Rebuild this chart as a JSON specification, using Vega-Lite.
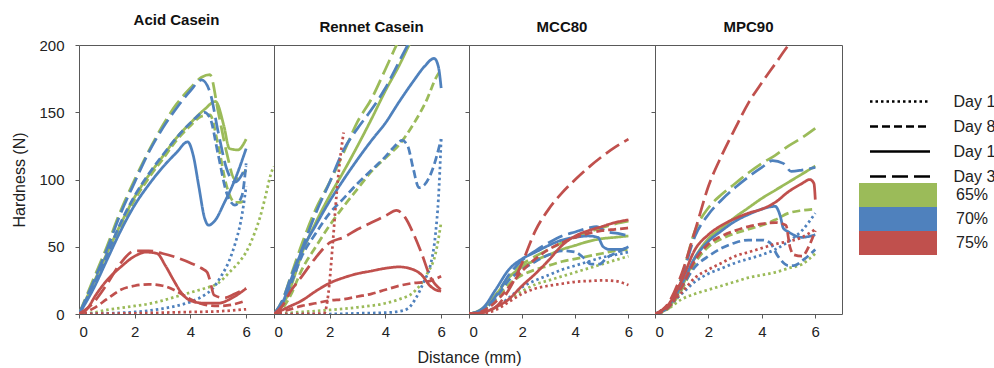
{
  "$schema": "https://vega.github.io/schema/vega-lite/v6.json",
  "background": "white",
  "padding": {"left": 11, "top": 12, "right": 0, "bottom": 0},
  "config": {
    "font": "Liberation Sans",
    "view": {"stroke": "#595959", "strokeWidth": 1},
    "axis": {"domain": false, "grid": false, "tickColor": "#595959", "tickSize": 4, "labelFont": "Liberation Sans", "labelFontSize": 15, "labelColor": "#222222", "titleFont": "Liberation Sans", "titleFontSize": 16, "titleFontWeight": "normal", "titleColor": "#222222"},
    "title": {"font": "Liberation Sans", "fontSize": 15, "fontWeight": "bold", "color": "#111111", "offset": 10, "anchor": "middle"},
    "legend": {"padding": 0, "titlePadding": 0, "labelFont": "Liberation Sans", "labelFontSize": 16, "labelColor": "#222222", "rowPadding": 0, "direction": "vertical"}
  },
  "datasets": {
    "acid": [
      {"c":"65%","d":"Day 1","x":0,"y":0},{"c":"65%","d":"Day 1","x":0.5,"y":1},{"c":"65%","d":"Day 1","x":1,"y":3},{"c":"65%","d":"Day 1","x":1.5,"y":4.5},{"c":"65%","d":"Day 1","x":2,"y":6},{"c":"65%","d":"Day 1","x":2.5,"y":7.5},{"c":"65%","d":"Day 1","x":3,"y":10},{"c":"65%","d":"Day 1","x":3.5,"y":13},{"c":"65%","d":"Day 1","x":4,"y":16},{"c":"65%","d":"Day 1","x":4.5,"y":19},{"c":"65%","d":"Day 1","x":5,"y":23},{"c":"65%","d":"Day 1","x":5.4,"y":31},{"c":"65%","d":"Day 1","x":5.8,"y":40},{"c":"65%","d":"Day 1","x":6,"y":46},{"c":"65%","d":"Day 1","x":6.3,"y":60},{"c":"65%","d":"Day 1","x":6.5,"y":72},{"c":"65%","d":"Day 1","x":6.7,"y":88},{"c":"65%","d":"Day 1","x":6.9,"y":105},{"c":"65%","d":"Day 1","x":7,"y":110},
      {"c":"65%","d":"Day 8","x":0,"y":0},{"c":"65%","d":"Day 8","x":0.5,"y":20},{"c":"65%","d":"Day 8","x":1,"y":42},{"c":"65%","d":"Day 8","x":1.5,"y":65},{"c":"65%","d":"Day 8","x":2,"y":85},{"c":"65%","d":"Day 8","x":2.5,"y":101},{"c":"65%","d":"Day 8","x":3,"y":115},{"c":"65%","d":"Day 8","x":3.5,"y":129},{"c":"65%","d":"Day 8","x":4,"y":140},{"c":"65%","d":"Day 8","x":4.4,"y":147},{"c":"65%","d":"Day 8","x":4.7,"y":148},{"c":"65%","d":"Day 8","x":5,"y":125},{"c":"65%","d":"Day 8","x":5.3,"y":95},{"c":"65%","d":"Day 8","x":5.6,"y":83},{"c":"65%","d":"Day 8","x":5.8,"y":83},{"c":"65%","d":"Day 8","x":6,"y":86},
      {"c":"65%","d":"Day 15","x":0,"y":0},{"c":"65%","d":"Day 15","x":0.5,"y":22},{"c":"65%","d":"Day 15","x":1,"y":45},{"c":"65%","d":"Day 15","x":1.5,"y":67},{"c":"65%","d":"Day 15","x":2,"y":87},{"c":"65%","d":"Day 15","x":2.5,"y":103},{"c":"65%","d":"Day 15","x":3,"y":117},{"c":"65%","d":"Day 15","x":3.5,"y":131},{"c":"65%","d":"Day 15","x":4,"y":142},{"c":"65%","d":"Day 15","x":4.5,"y":152},{"c":"65%","d":"Day 15","x":4.9,"y":158},{"c":"65%","d":"Day 15","x":5.2,"y":140},{"c":"65%","d":"Day 15","x":5.4,"y":123},{"c":"65%","d":"Day 15","x":5.7,"y":122},{"c":"65%","d":"Day 15","x":6,"y":130},
      {"c":"65%","d":"Day 36","x":0,"y":0},{"c":"65%","d":"Day 36","x":0.5,"y":25},{"c":"65%","d":"Day 36","x":1,"y":50},{"c":"65%","d":"Day 36","x":1.5,"y":77},{"c":"65%","d":"Day 36","x":2,"y":100},{"c":"65%","d":"Day 36","x":2.5,"y":121},{"c":"65%","d":"Day 36","x":3,"y":140},{"c":"65%","d":"Day 36","x":3.5,"y":156},{"c":"65%","d":"Day 36","x":4,"y":168},{"c":"65%","d":"Day 36","x":4.4,"y":176},{"c":"65%","d":"Day 36","x":4.7,"y":178},{"c":"65%","d":"Day 36","x":5,"y":150},{"c":"65%","d":"Day 36","x":5.3,"y":120},{"c":"65%","d":"Day 36","x":5.6,"y":100},{"c":"65%","d":"Day 36","x":6,"y":107},
      {"c":"70%","d":"Day 1","x":0,"y":0},{"c":"70%","d":"Day 1","x":1,"y":0.5},{"c":"70%","d":"Day 1","x":2,"y":1.5},{"c":"70%","d":"Day 1","x":2.5,"y":2.5},{"c":"70%","d":"Day 1","x":3,"y":4},{"c":"70%","d":"Day 1","x":3.5,"y":6},{"c":"70%","d":"Day 1","x":4,"y":9},{"c":"70%","d":"Day 1","x":4.5,"y":14},{"c":"70%","d":"Day 1","x":4.8,"y":19},{"c":"70%","d":"Day 1","x":5.1,"y":28},{"c":"70%","d":"Day 1","x":5.4,"y":40},{"c":"70%","d":"Day 1","x":5.6,"y":52},{"c":"70%","d":"Day 1","x":5.8,"y":68},{"c":"70%","d":"Day 1","x":5.9,"y":80},{"c":"70%","d":"Day 1","x":6,"y":95},
      {"c":"70%","d":"Day 8","x":0,"y":0},{"c":"70%","d":"Day 8","x":0.5,"y":21},{"c":"70%","d":"Day 8","x":1,"y":44},{"c":"70%","d":"Day 8","x":1.5,"y":68},{"c":"70%","d":"Day 8","x":2,"y":88},{"c":"70%","d":"Day 8","x":2.5,"y":104},{"c":"70%","d":"Day 8","x":3,"y":118},{"c":"70%","d":"Day 8","x":3.5,"y":131},{"c":"70%","d":"Day 8","x":4,"y":142},{"c":"70%","d":"Day 8","x":4.5,"y":150},{"c":"70%","d":"Day 8","x":4.7,"y":146},{"c":"70%","d":"Day 8","x":5,"y":118},{"c":"70%","d":"Day 8","x":5.3,"y":90},{"c":"70%","d":"Day 8","x":5.6,"y":81},{"c":"70%","d":"Day 8","x":5.85,"y":88},{"c":"70%","d":"Day 8","x":6,"y":112},
      {"c":"70%","d":"Day 15","x":0,"y":0},{"c":"70%","d":"Day 15","x":0.5,"y":18},{"c":"70%","d":"Day 15","x":1,"y":40},{"c":"70%","d":"Day 15","x":1.5,"y":62},{"c":"70%","d":"Day 15","x":2,"y":81},{"c":"70%","d":"Day 15","x":2.5,"y":96},{"c":"70%","d":"Day 15","x":3,"y":109},{"c":"70%","d":"Day 15","x":3.5,"y":120},{"c":"70%","d":"Day 15","x":3.9,"y":128},{"c":"70%","d":"Day 15","x":4.1,"y":118},{"c":"70%","d":"Day 15","x":4.3,"y":95},{"c":"70%","d":"Day 15","x":4.5,"y":72},{"c":"70%","d":"Day 15","x":4.65,"y":66},{"c":"70%","d":"Day 15","x":4.9,"y":70},{"c":"70%","d":"Day 15","x":5.2,"y":82},{"c":"70%","d":"Day 15","x":5.6,"y":100},{"c":"70%","d":"Day 15","x":6,"y":123},
      {"c":"70%","d":"Day 36","x":0,"y":0},{"c":"70%","d":"Day 36","x":0.5,"y":23},{"c":"70%","d":"Day 36","x":1,"y":48},{"c":"70%","d":"Day 36","x":1.5,"y":75},{"c":"70%","d":"Day 36","x":2,"y":98},{"c":"70%","d":"Day 36","x":2.5,"y":120},{"c":"70%","d":"Day 36","x":3,"y":138},{"c":"70%","d":"Day 36","x":3.5,"y":153},{"c":"70%","d":"Day 36","x":4,"y":166},{"c":"70%","d":"Day 36","x":4.4,"y":174},{"c":"70%","d":"Day 36","x":4.7,"y":165},{"c":"70%","d":"Day 36","x":5,"y":135},{"c":"70%","d":"Day 36","x":5.3,"y":108},{"c":"70%","d":"Day 36","x":5.6,"y":98},{"c":"70%","d":"Day 36","x":6,"y":110},
      {"c":"75%","d":"Day 1","x":0,"y":0},{"c":"75%","d":"Day 1","x":1,"y":0.3},{"c":"75%","d":"Day 1","x":2,"y":0.5},{"c":"75%","d":"Day 1","x":3,"y":1},{"c":"75%","d":"Day 1","x":4,"y":1.5},{"c":"75%","d":"Day 1","x":5,"y":2},{"c":"75%","d":"Day 1","x":6,"y":3.5},
      {"c":"75%","d":"Day 8","x":0,"y":0},{"c":"75%","d":"Day 8","x":0.5,"y":4},{"c":"75%","d":"Day 8","x":1,"y":11},{"c":"75%","d":"Day 8","x":1.5,"y":18},{"c":"75%","d":"Day 8","x":2,"y":21},{"c":"75%","d":"Day 8","x":2.5,"y":22},{"c":"75%","d":"Day 8","x":3,"y":21},{"c":"75%","d":"Day 8","x":3.5,"y":17},{"c":"75%","d":"Day 8","x":4,"y":11},{"c":"75%","d":"Day 8","x":4.5,"y":7},{"c":"75%","d":"Day 8","x":5,"y":6},{"c":"75%","d":"Day 8","x":5.5,"y":7},{"c":"75%","d":"Day 8","x":6,"y":10},
      {"c":"75%","d":"Day 15","x":0,"y":0},{"c":"75%","d":"Day 15","x":0.3,"y":4},{"c":"75%","d":"Day 15","x":0.6,"y":14},{"c":"75%","d":"Day 15","x":1,"y":25},{"c":"75%","d":"Day 15","x":1.5,"y":35},{"c":"75%","d":"Day 15","x":2,"y":43},{"c":"75%","d":"Day 15","x":2.4,"y":46},{"c":"75%","d":"Day 15","x":2.8,"y":45},{"c":"75%","d":"Day 15","x":3.1,"y":36},{"c":"75%","d":"Day 15","x":3.4,"y":25},{"c":"75%","d":"Day 15","x":3.7,"y":15},{"c":"75%","d":"Day 15","x":4,"y":10},{"c":"75%","d":"Day 15","x":4.5,"y":8},{"c":"75%","d":"Day 15","x":5,"y":8},{"c":"75%","d":"Day 15","x":5.5,"y":12},{"c":"75%","d":"Day 15","x":6,"y":19},
      {"c":"75%","d":"Day 36","x":0,"y":0},{"c":"75%","d":"Day 36","x":0.5,"y":8},{"c":"75%","d":"Day 36","x":1,"y":22},{"c":"75%","d":"Day 36","x":1.5,"y":38},{"c":"75%","d":"Day 36","x":2,"y":47},{"c":"75%","d":"Day 36","x":2.5,"y":47},{"c":"75%","d":"Day 36","x":3,"y":45},{"c":"75%","d":"Day 36","x":3.5,"y":42},{"c":"75%","d":"Day 36","x":4,"y":38},{"c":"75%","d":"Day 36","x":4.4,"y":34},{"c":"75%","d":"Day 36","x":4.6,"y":31},{"c":"75%","d":"Day 36","x":4.7,"y":25},{"c":"75%","d":"Day 36","x":4.85,"y":14},{"c":"75%","d":"Day 36","x":5.2,"y":12},{"c":"75%","d":"Day 36","x":5.6,"y":15},{"c":"75%","d":"Day 36","x":6,"y":19}
    ],
    "rennet": [
      {"c":"65%","d":"Day 1","x":0,"y":0},{"c":"65%","d":"Day 1","x":1,"y":1.5},{"c":"65%","d":"Day 1","x":2,"y":3},{"c":"65%","d":"Day 1","x":3,"y":5},{"c":"65%","d":"Day 1","x":4,"y":8},{"c":"65%","d":"Day 1","x":4.5,"y":11},{"c":"65%","d":"Day 1","x":5,"y":16},{"c":"65%","d":"Day 1","x":5.5,"y":30},{"c":"65%","d":"Day 1","x":5.8,"y":45},{"c":"65%","d":"Day 1","x":6,"y":68},
      {"c":"65%","d":"Day 8","x":0,"y":0},{"c":"65%","d":"Day 8","x":0.3,"y":4},{"c":"65%","d":"Day 8","x":0.6,"y":14},{"c":"65%","d":"Day 8","x":1,"y":33},{"c":"65%","d":"Day 8","x":1.5,"y":50},{"c":"65%","d":"Day 8","x":2,"y":66},{"c":"65%","d":"Day 8","x":2.5,"y":80},{"c":"65%","d":"Day 8","x":3,"y":93},{"c":"65%","d":"Day 8","x":3.5,"y":106},{"c":"65%","d":"Day 8","x":4,"y":116},{"c":"65%","d":"Day 8","x":4.5,"y":126},{"c":"65%","d":"Day 8","x":5,"y":141},{"c":"65%","d":"Day 8","x":5.5,"y":160},{"c":"65%","d":"Day 8","x":5.8,"y":175},{"c":"65%","d":"Day 8","x":6,"y":182},
      {"c":"65%","d":"Day 15","x":0,"y":0},{"c":"65%","d":"Day 15","x":0.3,"y":6},{"c":"65%","d":"Day 15","x":0.6,"y":20},{"c":"65%","d":"Day 15","x":1,"y":45},{"c":"65%","d":"Day 15","x":1.5,"y":68},{"c":"65%","d":"Day 15","x":2,"y":88},{"c":"65%","d":"Day 15","x":2.5,"y":106},{"c":"65%","d":"Day 15","x":3,"y":125},{"c":"65%","d":"Day 15","x":3.5,"y":145},{"c":"65%","d":"Day 15","x":4,"y":166},{"c":"65%","d":"Day 15","x":4.5,"y":185},{"c":"65%","d":"Day 15","x":4.85,"y":200},{"c":"65%","d":"Day 15","x":5,"y":206},
      {"c":"65%","d":"Day 36","x":0,"y":0},{"c":"65%","d":"Day 36","x":0.3,"y":10},{"c":"65%","d":"Day 36","x":0.6,"y":28},{"c":"65%","d":"Day 36","x":1,"y":52},{"c":"65%","d":"Day 36","x":1.5,"y":78},{"c":"65%","d":"Day 36","x":2,"y":98},{"c":"65%","d":"Day 36","x":2.5,"y":120},{"c":"65%","d":"Day 36","x":3,"y":143},{"c":"65%","d":"Day 36","x":3.5,"y":160},{"c":"65%","d":"Day 36","x":4,"y":182},{"c":"65%","d":"Day 36","x":4.4,"y":200},{"c":"65%","d":"Day 36","x":4.7,"y":212},
      {"c":"70%","d":"Day 1","x":0,"y":0},{"c":"70%","d":"Day 1","x":2,"y":0},{"c":"70%","d":"Day 1","x":3,"y":0.5},{"c":"70%","d":"Day 1","x":4,"y":1},{"c":"70%","d":"Day 1","x":4.5,"y":2},{"c":"70%","d":"Day 1","x":4.8,"y":4},{"c":"70%","d":"Day 1","x":5.1,"y":12},{"c":"70%","d":"Day 1","x":5.4,"y":25},{"c":"70%","d":"Day 1","x":5.6,"y":35},{"c":"70%","d":"Day 1","x":5.8,"y":60},{"c":"70%","d":"Day 1","x":5.9,"y":85},{"c":"70%","d":"Day 1","x":5.95,"y":105},{"c":"70%","d":"Day 1","x":6,"y":130},
      {"c":"70%","d":"Day 8","x":0,"y":0},{"c":"70%","d":"Day 8","x":0.3,"y":8},{"c":"70%","d":"Day 8","x":0.6,"y":22},{"c":"70%","d":"Day 8","x":1,"y":43},{"c":"70%","d":"Day 8","x":1.5,"y":60},{"c":"70%","d":"Day 8","x":2,"y":75},{"c":"70%","d":"Day 8","x":2.5,"y":86},{"c":"70%","d":"Day 8","x":3,"y":97},{"c":"70%","d":"Day 8","x":3.5,"y":107},{"c":"70%","d":"Day 8","x":4,"y":117},{"c":"70%","d":"Day 8","x":4.3,"y":124},{"c":"70%","d":"Day 8","x":4.6,"y":129},{"c":"70%","d":"Day 8","x":4.8,"y":125},{"c":"70%","d":"Day 8","x":5,"y":108},{"c":"70%","d":"Day 8","x":5.2,"y":94},{"c":"70%","d":"Day 8","x":5.4,"y":96},{"c":"70%","d":"Day 8","x":5.7,"y":108},{"c":"70%","d":"Day 8","x":6,"y":130},
      {"c":"70%","d":"Day 15","x":0,"y":0},{"c":"70%","d":"Day 15","x":0.3,"y":8},{"c":"70%","d":"Day 15","x":0.6,"y":25},{"c":"70%","d":"Day 15","x":1,"y":47},{"c":"70%","d":"Day 15","x":1.5,"y":66},{"c":"70%","d":"Day 15","x":2,"y":84},{"c":"70%","d":"Day 15","x":2.5,"y":100},{"c":"70%","d":"Day 15","x":3,"y":115},{"c":"70%","d":"Day 15","x":3.5,"y":129},{"c":"70%","d":"Day 15","x":4,"y":142},{"c":"70%","d":"Day 15","x":4.5,"y":158},{"c":"70%","d":"Day 15","x":5,"y":173},{"c":"70%","d":"Day 15","x":5.4,"y":184},{"c":"70%","d":"Day 15","x":5.75,"y":190},{"c":"70%","d":"Day 15","x":5.9,"y":184},{"c":"70%","d":"Day 15","x":6,"y":168},
      {"c":"70%","d":"Day 36","x":0,"y":0},{"c":"70%","d":"Day 36","x":0.3,"y":10},{"c":"70%","d":"Day 36","x":0.6,"y":27},{"c":"70%","d":"Day 36","x":1,"y":48},{"c":"70%","d":"Day 36","x":1.5,"y":75},{"c":"70%","d":"Day 36","x":2,"y":98},{"c":"70%","d":"Day 36","x":2.5,"y":122},{"c":"70%","d":"Day 36","x":3,"y":138},{"c":"70%","d":"Day 36","x":3.5,"y":152},{"c":"70%","d":"Day 36","x":4,"y":168},{"c":"70%","d":"Day 36","x":4.5,"y":188},{"c":"70%","d":"Day 36","x":4.8,"y":200},{"c":"70%","d":"Day 36","x":5,"y":208},
      {"c":"75%","d":"Day 1","x":0,"y":0},{"c":"75%","d":"Day 1","x":1,"y":0},{"c":"75%","d":"Day 1","x":1.8,"y":0.5},{"c":"75%","d":"Day 1","x":1.95,"y":15},{"c":"75%","d":"Day 1","x":2.1,"y":50},{"c":"75%","d":"Day 1","x":2.25,"y":90},{"c":"75%","d":"Day 1","x":2.4,"y":120},{"c":"75%","d":"Day 1","x":2.5,"y":135},
      {"c":"75%","d":"Day 8","x":0,"y":0},{"c":"75%","d":"Day 8","x":0.5,"y":3},{"c":"75%","d":"Day 8","x":1,"y":6},{"c":"75%","d":"Day 8","x":1.5,"y":8},{"c":"75%","d":"Day 8","x":2,"y":10},{"c":"75%","d":"Day 8","x":2.5,"y":11},{"c":"75%","d":"Day 8","x":3,"y":13},{"c":"75%","d":"Day 8","x":3.5,"y":15},{"c":"75%","d":"Day 8","x":4,"y":18},{"c":"75%","d":"Day 8","x":4.5,"y":21},{"c":"75%","d":"Day 8","x":5,"y":23},{"c":"75%","d":"Day 8","x":5.5,"y":24},{"c":"75%","d":"Day 8","x":6,"y":28},
      {"c":"75%","d":"Day 15","x":0,"y":0},{"c":"75%","d":"Day 15","x":0.3,"y":3},{"c":"75%","d":"Day 15","x":0.6,"y":6},{"c":"75%","d":"Day 15","x":1,"y":10},{"c":"75%","d":"Day 15","x":1.5,"y":17},{"c":"75%","d":"Day 15","x":2,"y":23},{"c":"75%","d":"Day 15","x":2.5,"y":27},{"c":"75%","d":"Day 15","x":3,"y":30},{"c":"75%","d":"Day 15","x":3.5,"y":32},{"c":"75%","d":"Day 15","x":4,"y":34},{"c":"75%","d":"Day 15","x":4.5,"y":35},{"c":"75%","d":"Day 15","x":5,"y":33},{"c":"75%","d":"Day 15","x":5.3,"y":29},{"c":"75%","d":"Day 15","x":5.6,"y":21},{"c":"75%","d":"Day 15","x":5.8,"y":18},{"c":"75%","d":"Day 15","x":6,"y":17},
      {"c":"75%","d":"Day 36","x":0,"y":0},{"c":"75%","d":"Day 36","x":0.3,"y":6},{"c":"75%","d":"Day 36","x":0.6,"y":17},{"c":"75%","d":"Day 36","x":1,"y":28},{"c":"75%","d":"Day 36","x":1.5,"y":42},{"c":"75%","d":"Day 36","x":2,"y":53},{"c":"75%","d":"Day 36","x":2.5,"y":57},{"c":"75%","d":"Day 36","x":3,"y":63},{"c":"75%","d":"Day 36","x":3.5,"y":68},{"c":"75%","d":"Day 36","x":4,"y":73},{"c":"75%","d":"Day 36","x":4.4,"y":77},{"c":"75%","d":"Day 36","x":4.7,"y":72},{"c":"75%","d":"Day 36","x":5,"y":60},{"c":"75%","d":"Day 36","x":5.3,"y":45},{"c":"75%","d":"Day 36","x":5.6,"y":28},{"c":"75%","d":"Day 36","x":6,"y":18}
    ],
    "mcc": [
      {"c":"65%","d":"Day 1","x":0,"y":0},{"c":"65%","d":"Day 1","x":0.5,"y":1},{"c":"65%","d":"Day 1","x":1,"y":4},{"c":"65%","d":"Day 1","x":1.5,"y":11},{"c":"65%","d":"Day 1","x":2,"y":17},{"c":"65%","d":"Day 1","x":2.5,"y":22},{"c":"65%","d":"Day 1","x":3,"y":25},{"c":"65%","d":"Day 1","x":3.5,"y":28},{"c":"65%","d":"Day 1","x":4,"y":31},{"c":"65%","d":"Day 1","x":4.5,"y":34},{"c":"65%","d":"Day 1","x":5,"y":37},{"c":"65%","d":"Day 1","x":5.5,"y":40},{"c":"65%","d":"Day 1","x":6,"y":43},
      {"c":"65%","d":"Day 8","x":0,"y":0},{"c":"65%","d":"Day 8","x":0.5,"y":3},{"c":"65%","d":"Day 8","x":1,"y":11},{"c":"65%","d":"Day 8","x":1.5,"y":22},{"c":"65%","d":"Day 8","x":2,"y":29},{"c":"65%","d":"Day 8","x":2.5,"y":33},{"c":"65%","d":"Day 8","x":3,"y":36},{"c":"65%","d":"Day 8","x":3.5,"y":39},{"c":"65%","d":"Day 8","x":4,"y":41},{"c":"65%","d":"Day 8","x":4.5,"y":43},{"c":"65%","d":"Day 8","x":5,"y":45},{"c":"65%","d":"Day 8","x":5.5,"y":47},{"c":"65%","d":"Day 8","x":6,"y":48},
      {"c":"65%","d":"Day 15","x":0,"y":0},{"c":"65%","d":"Day 15","x":0.5,"y":4},{"c":"65%","d":"Day 15","x":1,"y":14},{"c":"65%","d":"Day 15","x":1.5,"y":27},{"c":"65%","d":"Day 15","x":2,"y":35},{"c":"65%","d":"Day 15","x":2.5,"y":40},{"c":"65%","d":"Day 15","x":3,"y":44},{"c":"65%","d":"Day 15","x":3.5,"y":48},{"c":"65%","d":"Day 15","x":4,"y":51},{"c":"65%","d":"Day 15","x":4.5,"y":54},{"c":"65%","d":"Day 15","x":5,"y":56},{"c":"65%","d":"Day 15","x":5.5,"y":57},{"c":"65%","d":"Day 15","x":6,"y":58},
      {"c":"65%","d":"Day 36","x":0,"y":0},{"c":"65%","d":"Day 36","x":0.5,"y":3},{"c":"65%","d":"Day 36","x":1,"y":14},{"c":"65%","d":"Day 36","x":1.5,"y":28},{"c":"65%","d":"Day 36","x":2,"y":37},{"c":"65%","d":"Day 36","x":2.5,"y":43},{"c":"65%","d":"Day 36","x":3,"y":48},{"c":"65%","d":"Day 36","x":3.5,"y":53},{"c":"65%","d":"Day 36","x":4,"y":57},{"c":"65%","d":"Day 36","x":4.5,"y":61},{"c":"65%","d":"Day 36","x":5,"y":64},{"c":"65%","d":"Day 36","x":5.5,"y":67},{"c":"65%","d":"Day 36","x":6,"y":69},
      {"c":"70%","d":"Day 1","x":0,"y":0},{"c":"70%","d":"Day 1","x":0.5,"y":1},{"c":"70%","d":"Day 1","x":1,"y":5},{"c":"70%","d":"Day 1","x":1.5,"y":12},{"c":"70%","d":"Day 1","x":2,"y":20},{"c":"70%","d":"Day 1","x":2.5,"y":25},{"c":"70%","d":"Day 1","x":3,"y":29},{"c":"70%","d":"Day 1","x":3.5,"y":33},{"c":"70%","d":"Day 1","x":4,"y":36},{"c":"70%","d":"Day 1","x":4.5,"y":39},{"c":"70%","d":"Day 1","x":5,"y":42},{"c":"70%","d":"Day 1","x":5.5,"y":44},{"c":"70%","d":"Day 1","x":6,"y":46},
      {"c":"70%","d":"Day 8","x":0,"y":0},{"c":"70%","d":"Day 8","x":0.5,"y":3},{"c":"70%","d":"Day 8","x":1,"y":12},{"c":"70%","d":"Day 8","x":1.5,"y":25},{"c":"70%","d":"Day 8","x":2,"y":33},{"c":"70%","d":"Day 8","x":2.5,"y":39},{"c":"70%","d":"Day 8","x":3,"y":44},{"c":"70%","d":"Day 8","x":3.5,"y":47},{"c":"70%","d":"Day 8","x":4,"y":46},{"c":"70%","d":"Day 8","x":4.3,"y":42},{"c":"70%","d":"Day 8","x":4.6,"y":37},{"c":"70%","d":"Day 8","x":4.9,"y":37},{"c":"70%","d":"Day 8","x":5.2,"y":42},{"c":"70%","d":"Day 8","x":5.6,"y":46},{"c":"70%","d":"Day 8","x":6,"y":50},
      {"c":"70%","d":"Day 15","x":0,"y":0},{"c":"70%","d":"Day 15","x":0.5,"y":4},{"c":"70%","d":"Day 15","x":1,"y":18},{"c":"70%","d":"Day 15","x":1.5,"y":33},{"c":"70%","d":"Day 15","x":2,"y":41},{"c":"70%","d":"Day 15","x":2.5,"y":46},{"c":"70%","d":"Day 15","x":3,"y":51},{"c":"70%","d":"Day 15","x":3.5,"y":55},{"c":"70%","d":"Day 15","x":4,"y":57},{"c":"70%","d":"Day 15","x":4.5,"y":58},{"c":"70%","d":"Day 15","x":4.85,"y":57},{"c":"70%","d":"Day 15","x":5.05,"y":50},{"c":"70%","d":"Day 15","x":5.3,"y":48},{"c":"70%","d":"Day 15","x":5.7,"y":48},{"c":"70%","d":"Day 15","x":6,"y":50},
      {"c":"70%","d":"Day 36","x":0,"y":0},{"c":"70%","d":"Day 36","x":0.5,"y":2},{"c":"70%","d":"Day 36","x":1,"y":13},{"c":"70%","d":"Day 36","x":1.5,"y":29},{"c":"70%","d":"Day 36","x":2,"y":40},{"c":"70%","d":"Day 36","x":2.5,"y":47},{"c":"70%","d":"Day 36","x":3,"y":53},{"c":"70%","d":"Day 36","x":3.5,"y":58},{"c":"70%","d":"Day 36","x":4,"y":61},{"c":"70%","d":"Day 36","x":4.5,"y":64},{"c":"70%","d":"Day 36","x":4.8,"y":65},{"c":"70%","d":"Day 36","x":5.2,"y":61},{"c":"70%","d":"Day 36","x":5.6,"y":60},{"c":"70%","d":"Day 36","x":6,"y":58},
      {"c":"75%","d":"Day 1","x":0,"y":0},{"c":"75%","d":"Day 1","x":0.5,"y":0.5},{"c":"75%","d":"Day 1","x":1,"y":3},{"c":"75%","d":"Day 1","x":1.5,"y":9},{"c":"75%","d":"Day 1","x":2,"y":15},{"c":"75%","d":"Day 1","x":2.5,"y":19},{"c":"75%","d":"Day 1","x":3,"y":21},{"c":"75%","d":"Day 1","x":3.5,"y":22.5},{"c":"75%","d":"Day 1","x":4,"y":24},{"c":"75%","d":"Day 1","x":4.5,"y":24.5},{"c":"75%","d":"Day 1","x":5,"y":25},{"c":"75%","d":"Day 1","x":5.5,"y":24.5},{"c":"75%","d":"Day 1","x":6,"y":21.5},
      {"c":"75%","d":"Day 8","x":0,"y":0},{"c":"75%","d":"Day 8","x":0.5,"y":2},{"c":"75%","d":"Day 8","x":1,"y":9},{"c":"75%","d":"Day 8","x":1.5,"y":20},{"c":"75%","d":"Day 8","x":2,"y":32},{"c":"75%","d":"Day 8","x":2.5,"y":41},{"c":"75%","d":"Day 8","x":3,"y":48},{"c":"75%","d":"Day 8","x":3.5,"y":53},{"c":"75%","d":"Day 8","x":4,"y":57},{"c":"75%","d":"Day 8","x":4.5,"y":60},{"c":"75%","d":"Day 8","x":5,"y":62},{"c":"75%","d":"Day 8","x":5.5,"y":63},{"c":"75%","d":"Day 8","x":6,"y":64},
      {"c":"75%","d":"Day 15","x":0,"y":0},{"c":"75%","d":"Day 15","x":0.5,"y":1},{"c":"75%","d":"Day 15","x":1,"y":5},{"c":"75%","d":"Day 15","x":1.5,"y":11},{"c":"75%","d":"Day 15","x":2,"y":21},{"c":"75%","d":"Day 15","x":2.5,"y":30},{"c":"75%","d":"Day 15","x":3,"y":40},{"c":"75%","d":"Day 15","x":3.5,"y":51},{"c":"75%","d":"Day 15","x":4,"y":58},{"c":"75%","d":"Day 15","x":4.5,"y":62},{"c":"75%","d":"Day 15","x":5,"y":65},{"c":"75%","d":"Day 15","x":5.5,"y":68},{"c":"75%","d":"Day 15","x":6,"y":70},
      {"c":"75%","d":"Day 36","x":0,"y":0},{"c":"75%","d":"Day 36","x":0.5,"y":1},{"c":"75%","d":"Day 36","x":1,"y":5},{"c":"75%","d":"Day 36","x":1.5,"y":18},{"c":"75%","d":"Day 36","x":2,"y":38},{"c":"75%","d":"Day 36","x":2.5,"y":62},{"c":"75%","d":"Day 36","x":3,"y":78},{"c":"75%","d":"Day 36","x":3.5,"y":90},{"c":"75%","d":"Day 36","x":4,"y":100},{"c":"75%","d":"Day 36","x":4.5,"y":109},{"c":"75%","d":"Day 36","x":5,"y":117},{"c":"75%","d":"Day 36","x":5.5,"y":124},{"c":"75%","d":"Day 36","x":6,"y":130}
    ],
    "mpc": [
      {"c":"65%","d":"Day 1","x":0,"y":0},{"c":"65%","d":"Day 1","x":0.5,"y":4},{"c":"65%","d":"Day 1","x":1,"y":11},{"c":"65%","d":"Day 1","x":1.5,"y":15},{"c":"65%","d":"Day 1","x":2,"y":18},{"c":"65%","d":"Day 1","x":2.5,"y":21},{"c":"65%","d":"Day 1","x":3,"y":24},{"c":"65%","d":"Day 1","x":3.5,"y":27},{"c":"65%","d":"Day 1","x":4,"y":29},{"c":"65%","d":"Day 1","x":4.5,"y":31},{"c":"65%","d":"Day 1","x":5,"y":34},{"c":"65%","d":"Day 1","x":5.5,"y":37},{"c":"65%","d":"Day 1","x":6,"y":45},
      {"c":"65%","d":"Day 8","x":0,"y":0},{"c":"65%","d":"Day 8","x":0.5,"y":4},{"c":"65%","d":"Day 8","x":1,"y":18},{"c":"65%","d":"Day 8","x":1.5,"y":38},{"c":"65%","d":"Day 8","x":2,"y":50},{"c":"65%","d":"Day 8","x":2.5,"y":56},{"c":"65%","d":"Day 8","x":3,"y":60},{"c":"65%","d":"Day 8","x":3.5,"y":63},{"c":"65%","d":"Day 8","x":4,"y":66},{"c":"65%","d":"Day 8","x":4.5,"y":70},{"c":"65%","d":"Day 8","x":5,"y":75},{"c":"65%","d":"Day 8","x":5.5,"y":77},{"c":"65%","d":"Day 8","x":6,"y":78},
      {"c":"65%","d":"Day 15","x":0,"y":0},{"c":"65%","d":"Day 15","x":0.5,"y":5},{"c":"65%","d":"Day 15","x":1,"y":20},{"c":"65%","d":"Day 15","x":1.5,"y":42},{"c":"65%","d":"Day 15","x":2,"y":56},{"c":"65%","d":"Day 15","x":2.5,"y":64},{"c":"65%","d":"Day 15","x":3,"y":72},{"c":"65%","d":"Day 15","x":3.5,"y":79},{"c":"65%","d":"Day 15","x":4,"y":86},{"c":"65%","d":"Day 15","x":4.5,"y":92},{"c":"65%","d":"Day 15","x":5,"y":98},{"c":"65%","d":"Day 15","x":5.5,"y":104},{"c":"65%","d":"Day 15","x":6,"y":110},
      {"c":"65%","d":"Day 36","x":0,"y":0},{"c":"65%","d":"Day 36","x":0.5,"y":5},{"c":"65%","d":"Day 36","x":1,"y":28},{"c":"65%","d":"Day 36","x":1.5,"y":62},{"c":"65%","d":"Day 36","x":2,"y":79},{"c":"65%","d":"Day 36","x":2.5,"y":89},{"c":"65%","d":"Day 36","x":3,"y":97},{"c":"65%","d":"Day 36","x":3.5,"y":105},{"c":"65%","d":"Day 36","x":4,"y":112},{"c":"65%","d":"Day 36","x":4.5,"y":118},{"c":"65%","d":"Day 36","x":5,"y":125},{"c":"65%","d":"Day 36","x":5.5,"y":131},{"c":"65%","d":"Day 36","x":6,"y":138},
      {"c":"70%","d":"Day 1","x":0,"y":0},{"c":"70%","d":"Day 1","x":0.5,"y":6},{"c":"70%","d":"Day 1","x":1,"y":15},{"c":"70%","d":"Day 1","x":1.5,"y":24},{"c":"70%","d":"Day 1","x":2,"y":30},{"c":"70%","d":"Day 1","x":2.5,"y":34},{"c":"70%","d":"Day 1","x":3,"y":38},{"c":"70%","d":"Day 1","x":3.5,"y":41},{"c":"70%","d":"Day 1","x":4,"y":44},{"c":"70%","d":"Day 1","x":4.5,"y":48},{"c":"70%","d":"Day 1","x":5,"y":54},{"c":"70%","d":"Day 1","x":5.5,"y":62},{"c":"70%","d":"Day 1","x":6,"y":75},
      {"c":"70%","d":"Day 8","x":0,"y":0},{"c":"70%","d":"Day 8","x":0.5,"y":5},{"c":"70%","d":"Day 8","x":1,"y":20},{"c":"70%","d":"Day 8","x":1.5,"y":35},{"c":"70%","d":"Day 8","x":2,"y":43},{"c":"70%","d":"Day 8","x":2.5,"y":49},{"c":"70%","d":"Day 8","x":3,"y":53},{"c":"70%","d":"Day 8","x":3.5,"y":55},{"c":"70%","d":"Day 8","x":4,"y":55},{"c":"70%","d":"Day 8","x":4.3,"y":53},{"c":"70%","d":"Day 8","x":4.6,"y":43},{"c":"70%","d":"Day 8","x":5,"y":36},{"c":"70%","d":"Day 8","x":5.2,"y":36},{"c":"70%","d":"Day 8","x":5.6,"y":41},{"c":"70%","d":"Day 8","x":6,"y":48},
      {"c":"70%","d":"Day 15","x":0,"y":0},{"c":"70%","d":"Day 15","x":0.5,"y":6},{"c":"70%","d":"Day 15","x":1,"y":22},{"c":"70%","d":"Day 15","x":1.5,"y":42},{"c":"70%","d":"Day 15","x":2,"y":54},{"c":"70%","d":"Day 15","x":2.5,"y":62},{"c":"70%","d":"Day 15","x":3,"y":69},{"c":"70%","d":"Day 15","x":3.5,"y":74},{"c":"70%","d":"Day 15","x":4,"y":78},{"c":"70%","d":"Day 15","x":4.5,"y":80},{"c":"70%","d":"Day 15","x":4.7,"y":72},{"c":"70%","d":"Day 15","x":4.8,"y":64},{"c":"70%","d":"Day 15","x":5,"y":61},{"c":"70%","d":"Day 15","x":5.5,"y":57},{"c":"70%","d":"Day 15","x":6,"y":59},
      {"c":"70%","d":"Day 36","x":0,"y":0},{"c":"70%","d":"Day 36","x":0.5,"y":5},{"c":"70%","d":"Day 36","x":1,"y":27},{"c":"70%","d":"Day 36","x":1.5,"y":58},{"c":"70%","d":"Day 36","x":2,"y":74},{"c":"70%","d":"Day 36","x":2.5,"y":85},{"c":"70%","d":"Day 36","x":3,"y":94},{"c":"70%","d":"Day 36","x":3.5,"y":102},{"c":"70%","d":"Day 36","x":4,"y":109},{"c":"70%","d":"Day 36","x":4.4,"y":114},{"c":"70%","d":"Day 36","x":4.8,"y":112},{"c":"70%","d":"Day 36","x":5.1,"y":106},{"c":"70%","d":"Day 36","x":5.5,"y":107},{"c":"70%","d":"Day 36","x":6,"y":109},
      {"c":"75%","d":"Day 1","x":0,"y":0},{"c":"75%","d":"Day 1","x":0.5,"y":6},{"c":"75%","d":"Day 1","x":1,"y":16},{"c":"75%","d":"Day 1","x":1.5,"y":27},{"c":"75%","d":"Day 1","x":2,"y":33},{"c":"75%","d":"Day 1","x":2.5,"y":38},{"c":"75%","d":"Day 1","x":3,"y":43},{"c":"75%","d":"Day 1","x":3.5,"y":46},{"c":"75%","d":"Day 1","x":4,"y":49},{"c":"75%","d":"Day 1","x":4.5,"y":52},{"c":"75%","d":"Day 1","x":5,"y":54},{"c":"75%","d":"Day 1","x":5.5,"y":57},{"c":"75%","d":"Day 1","x":6,"y":63},
      {"c":"75%","d":"Day 8","x":0,"y":0},{"c":"75%","d":"Day 8","x":0.5,"y":5},{"c":"75%","d":"Day 8","x":1,"y":20},{"c":"75%","d":"Day 8","x":1.5,"y":40},{"c":"75%","d":"Day 8","x":2,"y":52},{"c":"75%","d":"Day 8","x":2.5,"y":58},{"c":"75%","d":"Day 8","x":3,"y":62},{"c":"75%","d":"Day 8","x":3.5,"y":65},{"c":"75%","d":"Day 8","x":4,"y":67},{"c":"75%","d":"Day 8","x":4.5,"y":68},{"c":"75%","d":"Day 8","x":4.9,"y":66},{"c":"75%","d":"Day 8","x":5.05,"y":50},{"c":"75%","d":"Day 8","x":5.2,"y":44},{"c":"75%","d":"Day 8","x":5.5,"y":43},{"c":"75%","d":"Day 8","x":5.8,"y":52},{"c":"75%","d":"Day 8","x":6,"y":62},
      {"c":"75%","d":"Day 15","x":0,"y":0},{"c":"75%","d":"Day 15","x":0.5,"y":7},{"c":"75%","d":"Day 15","x":1,"y":25},{"c":"75%","d":"Day 15","x":1.5,"y":48},{"c":"75%","d":"Day 15","x":2,"y":59},{"c":"75%","d":"Day 15","x":2.5,"y":66},{"c":"75%","d":"Day 15","x":3,"y":71},{"c":"75%","d":"Day 15","x":3.5,"y":75},{"c":"75%","d":"Day 15","x":4,"y":78},{"c":"75%","d":"Day 15","x":4.5,"y":83},{"c":"75%","d":"Day 15","x":5,"y":91},{"c":"75%","d":"Day 15","x":5.5,"y":97},{"c":"75%","d":"Day 15","x":5.8,"y":100},{"c":"75%","d":"Day 15","x":5.95,"y":97},{"c":"75%","d":"Day 15","x":6,"y":85},
      {"c":"75%","d":"Day 36","x":0,"y":0},{"c":"75%","d":"Day 36","x":0.5,"y":8},{"c":"75%","d":"Day 36","x":1,"y":30},{"c":"75%","d":"Day 36","x":1.5,"y":62},{"c":"75%","d":"Day 36","x":2,"y":95},{"c":"75%","d":"Day 36","x":2.5,"y":118},{"c":"75%","d":"Day 36","x":3,"y":138},{"c":"75%","d":"Day 36","x":3.5,"y":157},{"c":"75%","d":"Day 36","x":4,"y":172},{"c":"75%","d":"Day 36","x":4.5,"y":186},{"c":"75%","d":"Day 36","x":5,"y":200},{"c":"75%","d":"Day 36","x":5.5,"y":212}
    ]
  },
  "bounds": "flush",
  "spacing": 0,
  "resolve": {"scale": {"color": "shared", "strokeDash": "shared"}, "legend": {"color": "shared", "strokeDash": "shared"}},
  "hconcat": [
    {
      "data": {"name": "acid"},
      "title": "Acid Casein",
      "width": 195, "height": 269,
      "mark": {"type": "line", "clip": true, "strokeWidth": 2.75, "interpolate": "monotone"},
      "encoding": {
        "x": {"field": "x", "type": "quantitative", "scale": {"domain": [0, 7]}, "axis": {"values": [0, 2, 4, 6], "title": null, "labelPadding": 6}},
        "y": {"field": "y", "type": "quantitative", "scale": {"domain": [0, 200]}, "axis": {"values": [0, 50, 100, 150, 200], "title": "Hardness (N)", "labelPadding": 11, "titlePadding": 11}},
        "color": {"field": "c", "type": "nominal", "scale": {"domain": ["65%", "70%", "75%"], "range": ["#9BBB59", "#4F81BD", "#C0504D"]},
          "legend": {"orient": "none", "legendX": 807, "legendY": 138, "title": null, "symbolType": "M-3.25,-1H3.25V1H-3.25Z", "symbolSize": 576, "symbolStrokeWidth": 0, "labelOffset": 46, "labelLimit": 40,
            "encode": {"symbols": {"update": {"fill": {"scale": "color", "field": "value"}, "fillOpacity": {"value": 1}, "strokeWidth": {"value": 0}}}}}},
        "strokeDash": {"field": "d", "type": "nominal", "scale": {"domain": ["Day 1", "Day 8", "Day 15", "Day 36"], "range": [[2.5, 3], [8, 4], [1, 0], [16, 6]]},
          "legend": {"orient": "none", "legendX": 807.5, "legendY": 43, "title": null, "rowPadding": 3, "symbolType": "M-2.5,0H2.5", "symbolSize": 576, "symbolStrokeColor": "#000000", "symbolFillColor": "transparent", "symbolStrokeWidth": 2.5, "labelOffset": 40, "labelLimit": 44,
            "encode": {"labels": {"update": {"ellipsis": {"value": "\u200b"}}}}}}
      }
    },
    {
      "data": {"name": "rennet"},
      "title": "Rennet Casein",
      "width": 195, "height": 269,
      "mark": {"type": "line", "clip": true, "strokeWidth": 2.75, "interpolate": "monotone"},
      "encoding": {
        "x": {"field": "x", "type": "quantitative", "scale": {"domain": [0, 7]}, "axis": {"values": [0, 2, 4, 6], "title": "Distance (mm)", "labelPadding": 6, "titleAnchor": "end", "titleAlign": "center", "titlePadding": 10}},
        "y": {"field": "y", "type": "quantitative", "scale": {"domain": [0, 200]}, "axis": {"values": [0, 50, 100, 150, 200], "title": null, "labels": false}},
        "color": {"field": "c", "type": "nominal", "scale": {"domain": ["65%", "70%", "75%"], "range": ["#9BBB59", "#4F81BD", "#C0504D"]}},
        "strokeDash": {"field": "d", "type": "nominal", "scale": {"domain": ["Day 1", "Day 8", "Day 15", "Day 36"], "range": [[2.5, 3], [8, 4], [1, 0], [16, 6]]}}
      }
    },
    {
      "data": {"name": "mcc"},
      "title": "MCC80",
      "width": 186, "height": 269,
      "mark": {"type": "line", "clip": true, "strokeWidth": 2.75, "interpolate": "monotone"},
      "encoding": {
        "x": {"field": "x", "type": "quantitative", "scale": {"domain": [0, 7]}, "axis": {"values": [0, 2, 4, 6], "title": null, "labelPadding": 6}},
        "y": {"field": "y", "type": "quantitative", "scale": {"domain": [0, 200]}, "axis": {"values": [0, 50, 100, 150, 200], "title": null, "labels": false}},
        "color": {"field": "c", "type": "nominal", "scale": {"domain": ["65%", "70%", "75%"], "range": ["#9BBB59", "#4F81BD", "#C0504D"]}},
        "strokeDash": {"field": "d", "type": "nominal", "scale": {"domain": ["Day 1", "Day 8", "Day 15", "Day 36"], "range": [[2.5, 3], [8, 4], [1, 0], [16, 6]]}}
      }
    },
    {
      "data": {"name": "mpc"},
      "title": "MPC90",
      "width": 187, "height": 269,
      "mark": {"type": "line", "clip": true, "strokeWidth": 2.75, "interpolate": "monotone"},
      "encoding": {
        "x": {"field": "x", "type": "quantitative", "scale": {"domain": [0, 7]}, "axis": {"values": [0, 2, 4, 6], "title": null, "labelPadding": 6}},
        "y": {"field": "y", "type": "quantitative", "scale": {"domain": [0, 200]}, "axis": {"values": [0, 50, 100, 150, 200], "title": null, "labels": false}},
        "color": {"field": "c", "type": "nominal", "scale": {"domain": ["65%", "70%", "75%"], "range": ["#9BBB59", "#4F81BD", "#C0504D"]}},
        "strokeDash": {"field": "d", "type": "nominal", "scale": {"domain": ["Day 1", "Day 8", "Day 15", "Day 36"], "range": [[2.5, 3], [8, 4], [1, 0], [16, 6]]}}
      }
    }
  ]
}
